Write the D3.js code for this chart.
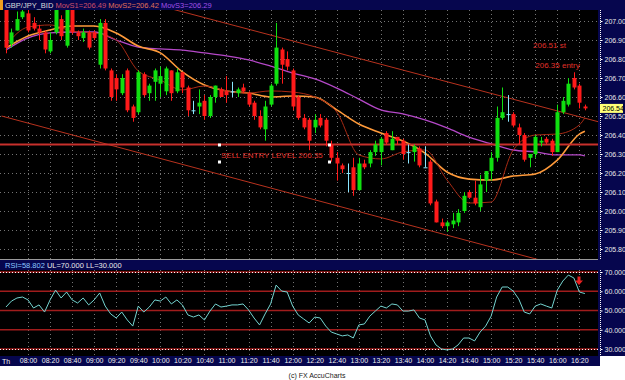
<!DOCTYPE html>
<html>
<head>
<meta charset="utf-8">
<script src="https://cdnjs.cloudflare.com/ajax/libs/d3/7.8.5/d3.min.js"></script>
<style>
body { margin: 0; background: #ffffff; }
svg { display: block; font-family: "Liberation Sans", Arial, sans-serif; }
</style>
</head>
<body>
<script>
// GBP/JPY 5 minute bars, first bar at 07:40 (minutes relative to 08:00)
var firstBar = -20;
var opens = [207.06,206.88,206.95,207.02,207.04,206.99,206.96,206.94,206.84,206.94,207.01,206.87,207.06,206.94,206.91,206.94,206.94,206.77,206.99,206.74,206.70,206.62,206.74,206.55,206.52,206.72,206.62,206.68,206.67,206.63,206.74,206.63,206.73,206.65,206.53,206.55,206.58,206.50,206.60,206.64,206.63,206.63,206.62,206.65,206.62,206.57,206.50,206.43,206.56,206.67,206.85,206.80,206.74,206.60,206.49,206.48,206.44,206.49,206.48,206.35,206.28,206.24,206.20,206.23,206.11,206.25,206.25,206.31,206.31,206.41,206.32,206.39,206.37,206.31,206.31,206.33,206.23,206.26,206.05,205.94,205.92,205.93,205.94,206.00,206.10,206.07,206.02,206.16,206.21,206.28,206.49,206.51,206.51,206.44,206.40,206.28,206.30,206.36,206.38,206.37,206.31,206.52,206.56,206.70,206.66,206.55];
var highs = [207.06,206.96,207.05,207.07,207.07,207.02,206.98,206.95,206.94,207.07,207.03,207.07,207.07,206.95,206.96,206.95,206.95,207.01,207.01,206.75,206.72,206.72,206.75,206.56,206.74,206.73,206.67,206.75,206.76,206.76,206.74,206.75,206.73,206.66,206.58,206.64,206.61,206.61,206.66,206.65,206.71,206.68,206.65,206.67,206.63,206.58,206.53,206.58,206.67,206.99,206.86,206.84,206.75,206.61,206.51,206.49,206.51,206.51,206.49,206.37,206.31,206.25,206.25,206.28,206.28,206.27,206.32,206.37,206.39,206.42,206.42,206.39,206.38,206.35,206.35,206.34,206.34,206.27,206.06,205.96,205.95,205.99,206.01,206.10,206.11,206.16,206.19,206.21,206.31,206.55,206.65,206.61,206.52,206.46,206.41,206.30,206.40,206.39,206.39,206.38,206.56,206.60,206.70,206.73,206.67,206.56];
var lows = [206.83,206.86,206.95,207.01,206.94,206.95,206.90,206.83,206.83,206.93,206.90,206.86,206.93,206.90,206.89,206.85,206.90,206.75,206.74,206.58,206.58,206.61,206.52,206.47,206.51,206.60,206.58,206.58,206.60,206.61,206.58,206.62,206.62,206.50,206.51,206.51,206.48,206.49,206.57,206.60,206.57,206.60,206.60,206.62,206.55,206.48,206.43,206.37,206.55,206.66,206.67,206.74,206.53,206.48,206.43,206.32,206.41,206.44,206.34,206.26,206.16,206.20,206.10,206.08,206.11,206.22,206.23,206.29,206.24,206.35,206.32,206.35,206.27,206.25,206.26,206.23,206.23,206.03,205.94,205.91,205.89,205.91,205.92,205.99,206.07,206.03,206.00,206.10,206.16,206.26,206.48,206.47,206.44,206.35,206.26,206.23,206.28,206.34,206.35,206.29,206.31,206.51,206.55,206.64,206.54,206.53];
var closes = [206.86,206.94,207.01,207.05,206.95,206.96,206.94,206.85,206.90,207.06,206.92,207.06,206.94,206.92,206.94,206.86,206.91,206.99,206.75,206.60,206.64,206.70,206.53,206.49,206.73,206.61,206.66,206.74,206.71,206.75,206.62,206.73,206.65,206.53,206.53,206.57,206.50,206.60,206.66,206.60,206.61,206.63,206.64,206.63,206.56,206.50,206.44,206.55,206.66,206.86,206.77,206.76,206.55,206.49,206.44,206.37,206.48,206.45,206.37,206.28,206.25,206.22,206.20,206.11,206.25,206.23,206.31,206.35,206.38,206.36,206.38,206.37,206.30,206.31,206.34,206.24,206.23,206.04,205.94,205.92,205.94,205.95,205.99,206.08,206.07,206.04,206.14,206.21,206.28,206.49,206.52,206.51,206.45,206.40,206.27,206.30,206.39,206.37,206.36,206.31,206.52,206.58,206.67,206.65,206.57,206.54];

// RSI, one value per bar
var rsiValues = [51.8,54.9,56.5,57.0,55.5,51.3,52.9,49.2,55.5,60.6,56.5,59.6,55.5,53.9,56.5,52.9,55.5,59.1,52.3,48.2,46.1,49.2,45.1,41.9,52.3,49.2,51.8,55.5,54.9,57.0,53.4,55.5,52.9,47.7,46.6,47.7,45.1,49.7,53.4,51.8,52.3,52.9,52.9,53.4,50.3,46.1,42.5,48.2,53.4,63.2,60.1,59.6,52.3,47.7,45.6,43.5,46.6,46.1,41.9,38.8,37.8,36.8,37.3,35.7,42.5,43.0,47.1,49.7,52.3,51.3,53.4,52.9,49.7,49.7,50.3,46.1,45.1,36.8,32.1,30.0,29.5,30.0,32.1,35.7,35.7,34.2,38.8,41.9,47.1,57.0,62.2,62.2,60.1,56.0,49.2,48.2,52.3,53.4,52.3,51.3,60.6,65.3,68.4,66.9,59.6,58.8];

// moving averages, every 20 minutes
var maTimes = [-20,0,20,40,60,80,100,120,140,160,180,200,220,240,260,280,300,320,340,360,380,400,420,440,460,480,500,505];
var movS1 = [206.874,206.968,206.979,206.947,206.937,206.900,206.737,206.689,206.637,206.658,206.632,206.621,206.632,206.626,206.600,206.521,206.295,206.274,206.311,206.321,206.163,206.042,206.047,206.321,206.400,206.405,206.453,206.49];
var movS2 = [206.858,206.921,206.953,206.974,206.974,206.937,206.868,206.832,206.732,206.663,206.632,206.621,206.600,206.605,206.600,206.532,206.458,206.411,206.368,206.305,206.205,206.168,206.163,206.184,206.195,206.268,206.405,206.42];
var movS3 = [206.847,206.911,206.937,206.942,206.942,206.900,206.863,206.853,206.847,206.832,206.816,206.795,206.763,206.726,206.695,206.647,206.589,206.532,206.511,206.479,206.437,206.389,206.353,206.321,206.311,206.295,206.295,206.29];

// trend lines: [minutes, price] ends
var upperTimes = [100, 517];
var upperPrices = [207.11, 206.47];
var lowerTimes = [-24, 517];
var lowerPrices = [206.50, 205.66];
var sellLevel = 206.35;
var lastPrice = 206.54;

var timeLabels = ["08:00","08:20","08:40","09:00","09:20","09:40","10:00","10:20","10:40","11:00","11:20","11:40","12:00","12:20","12:40","13:00","13:20","13:40","14:00","14:20","14:40","15:00","15:20","15:40","16:00","16:20"];
var priceTicks = [205.8,205.9,206.0,206.1,206.2,206.3,206.4,206.5,206.6,206.7,206.8,206.9,207.0];
var rsiTicks = [30,40,50,60,70];

var width = 625, height = 380;
var plotLeft = 0, plotRight = 598;
var mainTop = 10, mainBottom = 259;
var rsiTop = 270, rsiBottom = 356;
var navy = "#06064e";
var noteRed = "#e0302a";

function toMinutes(s) {
    var parts = s.split(":");
    return (+parts[0] - 8) * 60 + +parts[1];
}

var bars = opens.map(function(o, k) {
    return {t: firstBar + k * 5, o: o, h: highs[k], l: lows[k], c: closes[k], rsi: rsiValues[k]};
});

var x = d3.scaleLinear().domain([-25.4, 516.9]).range([plotLeft, plotRight]);
var y = d3.scaleLinear().domain([205.8, 207.0]).range([249, 21]);
var yr = d3.scaleLinear().domain([30, 70]).range([349, 272]);

var svg = d3.select("body").append("svg")
    .attr("width", width)
    .attr("height", height);

svg.append("rect").attr("width", width).attr("height", height).attr("fill", "#ffffff");

// panels
svg.append("rect").attr("x", 0).attr("y", 0).attr("width", width).attr("height", mainTop).attr("fill", navy);
svg.append("rect").attr("x", plotLeft).attr("y", mainTop).attr("width", plotRight - plotLeft).attr("height", mainBottom - mainTop).attr("fill", "#000");
svg.append("rect").attr("x", plotRight).attr("y", mainTop).attr("width", width - plotRight).attr("height", rsiBottom - mainTop).attr("fill", navy);
svg.append("rect").attr("x", 0).attr("y", mainBottom + 1).attr("width", plotRight).attr("height", rsiTop - mainBottom - 1).attr("fill", navy);
svg.append("rect").attr("x", plotLeft).attr("y", rsiTop).attr("width", plotRight - plotLeft).attr("height", rsiBottom - rsiTop).attr("fill", "#000");
svg.append("rect").attr("x", 0).attr("y", rsiBottom).attr("width", plotRight + 2).attr("height", 10).attr("fill", navy);
svg.append("line").attr("x1", 0).attr("x2", plotRight).attr("y1", mainBottom + 0.5).attr("y2", mainBottom + 0.5).attr("stroke", "#9a9a9a");
svg.append("rect").attr("x", 0).attr("y", 0).attr("width", 3).attr("height", mainTop).attr("fill", "#f0a020");

svg.append("clipPath").attr("id", "mainClip")
    .append("rect").attr("x", plotLeft).attr("y", mainTop).attr("width", plotRight - plotLeft).attr("height", mainBottom - mainTop);
svg.append("clipPath").attr("id", "rsiClip")
    .append("rect").attr("x", plotLeft).attr("y", rsiTop).attr("width", plotRight - plotLeft).attr("height", rsiBottom - rsiTop);

var gridTimes = timeLabels.map(toMinutes);

// dotted grid
var grid = svg.append("g").attr("stroke", "#747474").attr("stroke-dasharray", "1,3");
grid.selectAll(".vm").data(gridTimes).enter().append("line")
    .attr("x1", function(d) { return Math.round(x(d)) + 0.5; })
    .attr("x2", function(d) { return Math.round(x(d)) + 0.5; })
    .attr("y1", mainTop).attr("y2", mainBottom);
grid.selectAll(".hm").data(priceTicks).enter().append("line")
    .attr("x1", plotLeft).attr("x2", plotRight)
    .attr("y1", function(d) { return Math.round(y(d)) + 0.5; })
    .attr("y2", function(d) { return Math.round(y(d)) + 0.5; });
grid.selectAll(".vr").data(gridTimes).enter().append("line")
    .attr("x1", function(d) { return Math.round(x(d)) + 0.5; })
    .attr("x2", function(d) { return Math.round(x(d)) + 0.5; })
    .attr("y1", rsiTop).attr("y2", rsiBottom);

var main = svg.append("g").attr("clip-path", "url(#mainClip)");

// trend lines
var trend = d3.line().x(function(d) { return x(d[0]); }).y(function(d) { return y(d[1]); });
main.append("path").datum(d3.zip(upperTimes, upperPrices)).attr("d", trend)
    .attr("fill", "none").attr("stroke", "#b8321e").attr("stroke-width", 1);
main.append("path").datum(d3.zip(lowerTimes, lowerPrices)).attr("d", trend)
    .attr("fill", "none").attr("stroke", "#b8321e").attr("stroke-width", 1);

// moving averages
var maLine = d3.line()
    .x(function(d) { return x(d[0]); })
    .y(function(d) { return y(d[1]); })
    .curve(d3.curveMonotoneX);
main.append("path").datum(d3.zip(maTimes, movS3)).attr("d", maLine)
    .attr("fill", "none").attr("stroke", "#b548c8").attr("stroke-width", 1.3);
main.append("path").datum(d3.zip(maTimes, movS2)).attr("d", maLine)
    .attr("fill", "none").attr("stroke", "#ff9a3a").attr("stroke-width", 1.6);
main.append("path").datum(d3.zip(maTimes, movS1)).attr("d", maLine)
    .attr("fill", "none").attr("stroke", "#a82a14").attr("stroke-width", 1);

// sell entry line
main.append("line")
    .attr("x1", plotLeft).attr("x2", plotRight)
    .attr("y1", y(sellLevel)).attr("y2", y(sellLevel))
    .attr("stroke", "#c8302c").attr("stroke-width", 2);

// candles
function barColor(d) {
    if (d.c > d.o) return "#10e010";
    if (d.c < d.o) return "#ff1a1a";
    return "#8ae6ff";
}
var candle = main.selectAll(".bar").data(bars).enter().append("g");
candle.append("line")
    .attr("x1", function(d) { return Math.round(x(d.t)) + 0.5; })
    .attr("x2", function(d) { return Math.round(x(d.t)) + 0.5; })
    .attr("y1", function(d) { return y(d.h); })
    .attr("y2", function(d) { return y(d.l); })
    .attr("stroke", barColor);
candle.append("rect")
    .attr("x", function(d) { return Math.round(x(d.t)) - 1.5; })
    .attr("width", 4)
    .attr("y", function(d) { return Math.min(y(d.o), y(d.c)); })
    .attr("height", function(d) { return Math.max(1, Math.abs(y(d.o) - y(d.c))); })
    .attr("fill", barColor);

// annotations
var noteX = x(175), noteY = y(sellLevel);
svg.append("text").attr("x", noteX).attr("y", noteY + 13)
    .attr("font-size", 8).attr("fill", noteRed).text("SELL ENTRY LEVEL 206.35");
[[-3, -1], [107, -1], [-3, 16], [107, 16]].forEach(function(p) {
    svg.append("rect").attr("x", noteX + p[0]).attr("y", noteY + p[1]).attr("width", 3).attr("height", 3).attr("fill", "#ffffff");
});
svg.append("text").attr("x", x(458)).attr("y", 48)
    .attr("font-size", 8).attr("fill", noteRed).text("206.51 st");
svg.append("text").attr("x", x(460)).attr("y", 68)
    .attr("font-size", 8).attr("fill", noteRed).text("206.35 entry");

// header
var head = svg.append("text").attr("x", 5).attr("y", 8).attr("font-size", 7.5);
head.append("tspan").attr("fill", "#dcdcdc").text("GBP/JPY_BID ");
head.append("tspan").attr("fill", "#d0506a").text("MovS1=206.49 ");
head.append("tspan").attr("fill", "#e07058").text("MovS2=206.42 ");
head.append("tspan").attr("fill", "#a050e8").text("MovS3=206.29");

// price axis
var priceAxis = svg.append("g")
    .attr("transform", "translate(" + (plotRight + 2.5) + ",0)")
    .call(d3.axisRight(y).tickValues(priceTicks).tickFormat(d3.format(".2f")).tickSize(2).tickPadding(2));
priceAxis.select(".domain").attr("stroke", "#ffffff").attr("stroke-dasharray", "1,1").attr("d", "M0," + mainTop + "V" + mainBottom);
priceAxis.selectAll(".tick line").attr("stroke", "#ffffff");
priceAxis.selectAll(".tick text").attr("fill", "#e8e8e8").attr("font-size", 7).attr("font-family", "Liberation Sans, Arial, sans-serif");

svg.append("rect").attr("x", plotRight + 2).attr("y", y(lastPrice) - 4.5).attr("width", 23).attr("height", 9).attr("fill", "#ffff78");
svg.append("text").attr("x", plotRight + 4.5).attr("y", y(lastPrice) + 3)
    .attr("font-size", 7).attr("fill", "#000").text(lastPrice.toFixed(2));

// RSI panel
var rsiHead = svg.append("text").attr("x", 5).attr("y", 268).attr("font-size", 7.5);
rsiHead.append("tspan").attr("fill", "#8cc8ff").text("RSI=58.802 ");
rsiHead.append("tspan").attr("fill", "#e8e8e8").text("UL=70.000 LL=30.000");

var rsiG = svg.append("g").attr("clip-path", "url(#rsiClip)");
rsiG.selectAll(".lvl").data(rsiTicks).enter().append("line")
    .attr("x1", plotLeft).attr("x2", plotRight)
    .attr("y1", function(d) { return yr(d); })
    .attr("y2", function(d) { return yr(d); })
    .attr("stroke", "#a01c1c").attr("stroke-width", 1.6);
rsiG.selectAll(".lim").data([30, 70]).enter().append("line")
    .attr("x1", plotLeft).attr("x2", plotRight)
    .attr("y1", function(d) { return Math.round(yr(d)) + 0.5; })
    .attr("y2", function(d) { return Math.round(yr(d)) + 0.5; })
    .attr("stroke", "#ffffff").attr("stroke-dasharray", "1,2");
rsiG.append("path").datum(bars)
    .attr("d", d3.line().x(function(d) { return x(d.t); }).y(function(d) { return yr(d.rsi); }))
    .attr("fill", "none").attr("stroke", "#74d4d0").attr("stroke-width", 1);

// sell arrow on the RSI
var ax = Math.round(x(500)), ay = yr(67.6);
svg.append("path")
    .attr("d", "M" + (ax - 1.5) + "," + ay + "h3v4h2.5l-4,4.5l-4,-4.5h2.5z")
    .attr("fill", "#e82020");

var rsiAxis = svg.append("g")
    .attr("transform", "translate(" + (plotRight + 2.5) + ",0)")
    .call(d3.axisRight(yr).tickValues(rsiTicks).tickFormat(d3.format(".3f")).tickSize(2).tickPadding(2));
rsiAxis.select(".domain").attr("stroke", "#ffffff").attr("stroke-dasharray", "1,1").attr("d", "M0," + rsiTop + "V" + rsiBottom);
rsiAxis.selectAll(".tick line").attr("stroke", "#ffffff");
rsiAxis.selectAll(".tick text").attr("fill", "#e8e8e8").attr("font-size", 7).attr("font-family", "Liberation Sans, Arial, sans-serif");

// time axis
var timeAxis = svg.append("g")
    .attr("transform", "translate(0," + rsiBottom + ")")
    .call(d3.axisBottom(x).tickValues(gridTimes).tickFormat(function(d, i) { return timeLabels[i]; }).tickSize(0).tickPadding(2));
timeAxis.select(".domain").remove();
timeAxis.selectAll(".tick text").attr("fill", "#f0f0f0").attr("font-size", 7).attr("font-family", "Liberation Sans, Arial, sans-serif");
svg.append("text").attr("x", 2).attr("y", rsiBottom + 8).attr("font-size", 7).attr("fill", "#f0f0f0").text("Th");

svg.append("text").attr("x", 317).attr("y", 378).attr("text-anchor", "middle")
    .attr("font-size", 7).attr("fill", "#202020").text("(c) FX AccuCharts");
</script>
</body>
</html>
